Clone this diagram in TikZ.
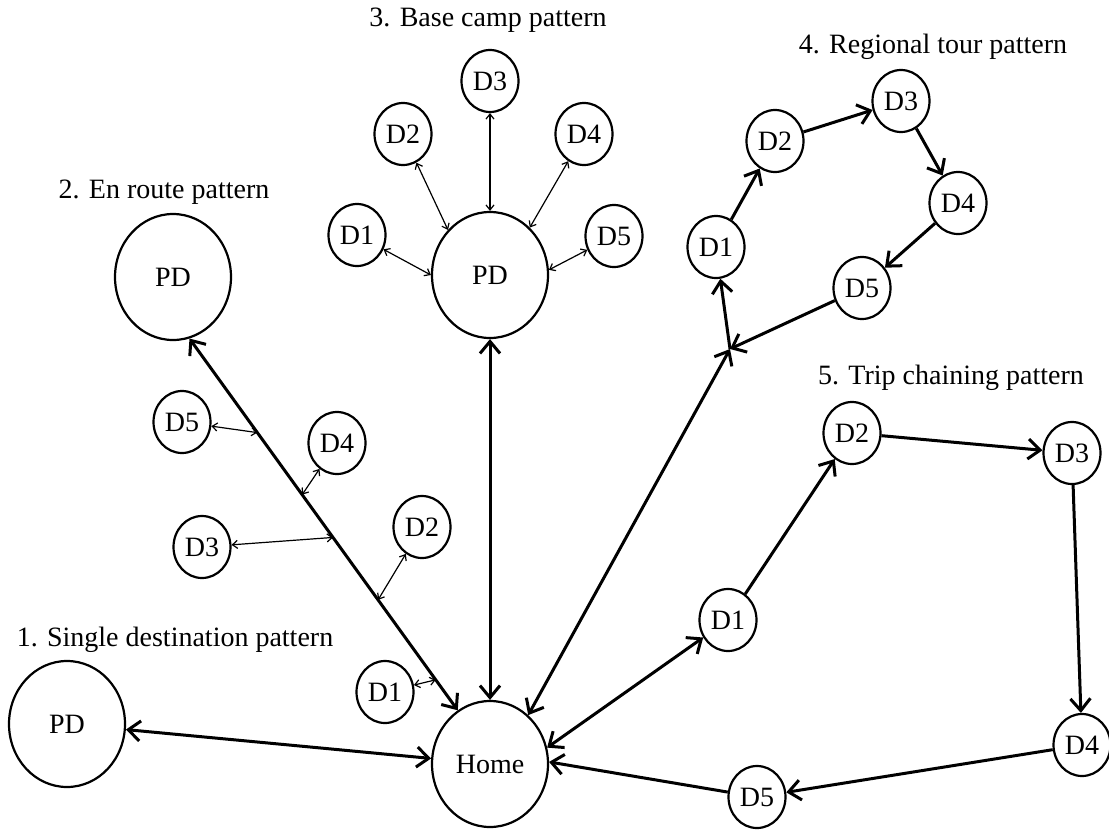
\documentclass[tikz,border=0pt]{standalone}
\usepackage{fontspec}
\setmainfont{Liberation Serif}
\usetikzlibrary{arrows.meta,shapes.geometric,calc}
\begin{document}
\begin{tikzpicture}[x=1pt,y=-1pt,
  txt/.style={font=\fontsize{28}{32}\selectfont},
  big/.style={txt, draw, line width=2.2pt, ellipse, minimum width=116pt, minimum height=126pt, inner sep=0pt},
  small/.style={txt, draw, line width=2.2pt, ellipse, minimum width=57pt, minimum height=62pt, inner sep=0pt},
  ttl/.style={txt, inner sep=0pt},
  heavy/.style={line width=3pt, >={Straight Barb[length=12pt,width=20pt]}},
  light/.style={line width=1.2pt, {Straight Barb[length=5pt,width=8pt]}-{Straight Barb[length=5pt,width=8pt]}}
]
\useasboundingbox (0,0) rectangle (1109,830);

% titles
\node[ttl] (t1) at (175,640) {1. Single destination pattern};
\node[ttl] (t2) at (164,192) {2. En route pattern};
\node[ttl] (t3) at (488,20) {3. Base camp pattern};
\node[ttl] (t4) at (933,47) {4. Regional tour pattern};
\node[ttl] (t5) at (951,378) {5. Trip chaining pattern};

% home
\node[big] (home) at (490,764) {Home};

% 1. single destination
\node[big] (pd1) at (67,724) {PD};
\draw[heavy,<->] (pd1) -- (home);

% 2. en route
\node[big] (pd2) at (173,277) {PD};
\node[small] (e1) at (385,692) {D1};
\node[small] (e2) at (422,527) {D2};
\node[small] (e3) at (202,547) {D3};
\node[small] (e4) at (337,443) {D4};
\node[small] (e5) at (182,422) {D5};
\draw[heavy,<->] (pd2.-75) -- (home.121);
\coordinate (p5) at ($(pd2.-75)!0.253!(home.121)$);
\coordinate (p4) at ($(pd2.-75)!0.42!(home.121)$);
\coordinate (p3) at ($(pd2.-75)!0.535!(home.121)$);
\coordinate (p2) at ($(pd2.-75)!0.703!(home.121)$);
\coordinate (p1) at ($(pd2.-75)!0.918!(home.121)$);
\draw[light] (e5) -- (p5);
\draw[light] (e4) -- (p4);
\draw[light] (e3) -- (p3);
\draw[light] (e2) -- (p2);
\draw[light] (e1) -- (p1);

% 3. base camp
\node[big] (pd3) at (490,275) {PD};
\node[small] (b1) at (357,235) {D1};
\node[small] (b2) at (403,134) {D2};
\node[small] (b3) at (490,81) {D3};
\node[small] (b4) at (584,134) {D4};
\node[small] (b5) at (614,236) {D5};
\draw[heavy,<->] (pd3) -- (home);
\draw[light] (b1) -- (pd3.180);
\draw[light] (b2) -- (pd3.133);
\draw[light] (b3) -- (pd3.90);
\draw[light] (b4) -- (pd3.50);
\draw[light] (b5) -- (pd3.5);

% 4. regional tour
\coordinate (j) at (730,349);
\node[small] (r1) at (716,247) {D1};
\node[small] (r2) at (775,141) {D2};
\node[small] (r3) at (901,101) {D3};
\node[small] (r4) at (958,203) {D4};
\node[small] (r5) at (862,288) {D5};
\draw[heavy,<->] (home.52) -- (j);
\draw[heavy,->] (j) -- (r1);
\draw[heavy,->] (r1) -- (r2);
\draw[heavy,->] (r2) -- (r3);
\draw[heavy,->] (r3) -- (r4);
\draw[heavy,->] (r4) -- (r5);
\draw[heavy,->] (r5) -- (j);

% 5. trip chaining
\node[small] (c1) at (728,620) {D1};
\node[small] (c2) at (852,433) {D2};
\node[small] (c3) at (1072,453) {D3};
\node[small] (c4) at (1082,745) {D4};
\node[small] (c5) at (757,797) {D5};
\draw[heavy,<->] (home.16) -- (c1);
\draw[heavy,->] (c1) -- (c2);
\draw[heavy,->] (c2) -- (c3);
\draw[heavy,->] (c3) -- (c4);
\draw[heavy,->] (c4) -- (c5);
\draw[heavy,->] (c5) -- (home.2);
\end{tikzpicture}
\end{document}
